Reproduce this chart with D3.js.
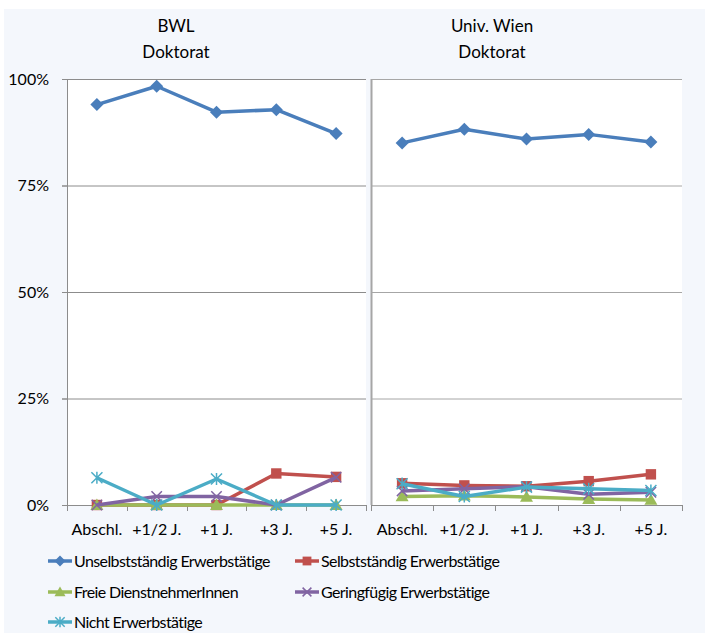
<!DOCTYPE html>
<html>
<head>
<meta charset="utf-8">
<script src="https://cdn.jsdelivr.net/npm/d3@7"></script>
<style>
  body { margin: 0; background: #fff; }
  text { font-family: Lato, "Open Sans", sans-serif; fill: #000; }
</style>
</head>
<body>
<div id="chart"></div>
<script>
const width = 705;
const height = 633;

// categories and series
const categories = ["Abschl.", "+1/2 J.", "+1 J.", "+3 J.", "+5 J."];
const yTicks = [0, 25, 50, 75, 100];
const seriesNames = [
  "Unselbstständig Erwerbstätige",
  "Selbstständig Erwerbstätige",
  "Freie DienstnehmerInnen",
  "Geringfügig Erwerbstätige",
  "Nicht Erwerbstätige",
];
const seriesColors = ["#4A7EBB", "#C0504D", "#9BBB59", "#8064A2", "#4BACC6"];
const seriesMarkers = ["diamond", "square", "triangle", "x", "star"];

// BWL Doktorat (%)
const bwlUnselbst = [94.0, 98.3, 92.2, 92.8, 87.2];
const bwlSelbst = [0, 0, 0, 7.4, 6.6];
const bwlFreie = [0, 0, 0, 0, 0];
const bwlGering = [0, 2.0, 2.0, 0, 6.5];
const bwlNicht = [6.4, 0, 6.1, 0, 0];

// Univ. Wien Doktorat (%)
const wienUnselbst = [85.0, 88.2, 85.9, 87.0, 85.2];
const wienSelbst = [5.1, 4.6, 4.4, 5.6, 7.2];
const wienFreie = [2.0, 2.2, 1.9, 1.4, 1.2];
const wienGering = [3.3, 3.8, 4.3, 2.5, 3.0];
const wienNicht = [5.0, 2.0, 4.2, 3.8, 3.4];

const panels = [
  { title: ["BWL", "Doktorat"], titleX: 176, x0: 67, x1: 366, axisLabels: true,
    data: [bwlUnselbst, bwlSelbst, bwlFreie, bwlGering, bwlNicht] },
  { title: ["Univ. Wien", "Doktorat"], titleX: 492, x0: 371, x1: 682, axisLabels: false,
    data: [wienUnselbst, wienSelbst, wienFreie, wienGering, wienNicht] },
];

const svg = d3.select("#chart").append("svg")
  .attr("width", width)
  .attr("height", height);

// light chart background
svg.append("rect")
  .attr("x", 4).attr("y", 9)
  .attr("width", width - 4).attr("height", height - 9)
  .attr("fill", "#F4F7FC");

const y = d3.scaleLinear().domain([0, 100]).range([505, 79]);

function drawMarker(g, type, cx, cy, color, s) {
  if (type === "diamond") {
    g.append("path")
      .attr("d", `M${cx},${cy - s}L${cx + s},${cy}L${cx},${cy + s}L${cx - s},${cy}Z`)
      .attr("fill", color);
  } else if (type === "square") {
    g.append("rect")
      .attr("x", cx - s * 0.8).attr("y", cy - s * 0.8)
      .attr("width", s * 1.6).attr("height", s * 1.6)
      .attr("fill", color);
  } else if (type === "triangle") {
    g.append("path")
      .attr("d", `M${cx},${cy - s}L${cx + s},${cy + s * 0.75}L${cx - s},${cy + s * 0.75}Z`)
      .attr("fill", color);
  } else if (type === "x") {
    const r = s * 0.8;
    g.append("path")
      .attr("d", `M${cx - r},${cy - r}L${cx + r},${cy + r}M${cx - r},${cy + r}L${cx + r},${cy - r}`)
      .attr("stroke", color).attr("stroke-width", 1.5).attr("fill", "none");
  } else if (type === "star") {
    const r = s * 0.85;
    g.append("path")
      .attr("d", `M${cx - r},${cy - r}L${cx + r},${cy + r}M${cx - r},${cy + r}L${cx + r},${cy - r}M${cx},${cy - r * 1.1}L${cx},${cy + r * 1.1}`)
      .attr("stroke", color).attr("stroke-width", 1.5).attr("fill", "none");
  }
}

panels.forEach((p) => {
  const g = svg.append("g");

  // plot area
  g.append("rect")
    .attr("x", p.x0).attr("y", 79)
    .attr("width", p.x1 - p.x0).attr("height", 426)
    .attr("fill", "#fff");

  const x = d3.scaleBand().domain(categories).range([p.x0, p.x1]);

  // gridlines
  g.selectAll(".grid")
    .data(yTicks.filter((d) => d > 0))
    .enter()
    .append("line")
    .attr("x1", p.axisLabels ? p.x0 - 5 : p.x0)
    .attr("x2", p.x1)
    .attr("y1", (d) => y(d) + 0.5)
    .attr("y2", (d) => y(d) + 0.5)
    .attr("stroke", p.axisLabels ? "#8C8C8C" : "#A6A6A6")
    .attr("stroke-width", 1);

  // y axis
  g.append("line")
    .attr("x1", p.x0 + 0.5).attr("x2", p.x0 + 0.5)
    .attr("y1", 79).attr("y2", 505)
    .attr("stroke", p.axisLabels ? "#8C8C8C" : "#A6A6A6")
    .attr("stroke-width", p.axisLabels ? 1 : 2);

  if (p.axisLabels) {
    g.selectAll(".ytick")
      .data(yTicks)
      .enter()
      .append("line")
      .attr("x1", p.x0 - 5).attr("x2", p.x0)
      .attr("y1", (d) => y(d) + 0.5).attr("y2", (d) => y(d) + 0.5)
      .attr("stroke", "#8C8C8C");
    g.selectAll(".ylab")
      .data(yTicks)
      .enter()
      .append("text")
      .attr("x", 49)
      .attr("y", (d) => y(d))
      .attr("dy", "0.35em")
      .attr("text-anchor", "end")
      .attr("font-size", 16)
      .text((d) => d + "%");
  }

  // x axis
  g.append("line")
    .attr("x1", p.axisLabels ? p.x0 - 5 : p.x0).attr("x2", p.x1)
    .attr("y1", 505.5).attr("y2", 505.5)
    .attr("stroke", "#8C8C8C");
  const bounds = categories.map((c) => x(c)).concat([p.x1]);
  g.selectAll(".xtick")
    .data(bounds)
    .enter()
    .append("line")
    .attr("x1", (d) => Math.round(d) + 0.5).attr("x2", (d) => Math.round(d) + 0.5)
    .attr("y1", 505).attr("y2", 511)
    .attr("stroke", "#8C8C8C");
  g.selectAll(".xlab")
    .data(categories)
    .enter()
    .append("text")
    .attr("x", (d) => x(d) + x.bandwidth() / 2)
    .attr("y", 535)
    .attr("text-anchor", "middle")
    .attr("font-size", 16)
    .text((d) => d);

  // title
  p.title.forEach((t, i) => {
    g.append("text")
      .attr("x", p.titleX)
      .attr("y", 32 + i * 26)
      .attr("text-anchor", "middle")
      .attr("font-size", 17)
      .text(t);
  });

  // series
  const line = d3.line()
    .x((d, i) => x(categories[i]) + x.bandwidth() / 2)
    .y((d) => y(d));
  p.data.forEach((vals, si) => {
    const sg = g.append("g");
    sg.append("path")
      .datum(vals)
      .attr("d", line)
      .attr("fill", "none")
      .attr("stroke", seriesColors[si])
      .attr("stroke-width", 3.5)
      .attr("stroke-linejoin", "round");
    vals.forEach((v, i) => {
      drawMarker(sg, seriesMarkers[si], x(categories[i]) + x.bandwidth() / 2, y(v), seriesColors[si], 6.5);
    });
  });
});

// legend
const legendPos = [
  [48, 561], [295, 561],
  [48, 592], [295, 592],
  [48, 622],
];
seriesNames.forEach((name, i) => {
  const [lx, ly] = legendPos[i];
  const lg = svg.append("g");
  lg.append("line")
    .attr("x1", lx).attr("x2", lx + 24)
    .attr("y1", ly).attr("y2", ly)
    .attr("stroke", seriesColors[i])
    .attr("stroke-width", 3.5);
  drawMarker(lg, seriesMarkers[i], lx + 12, ly, seriesColors[i], 5.5);
  lg.append("text")
    .attr("x", lx + 26)
    .attr("y", ly)
    .attr("dy", "0.35em")
    .attr("font-size", 16)
    .attr("letter-spacing", -0.6)
    .text(name);
});
</script>
</body>
</html>
